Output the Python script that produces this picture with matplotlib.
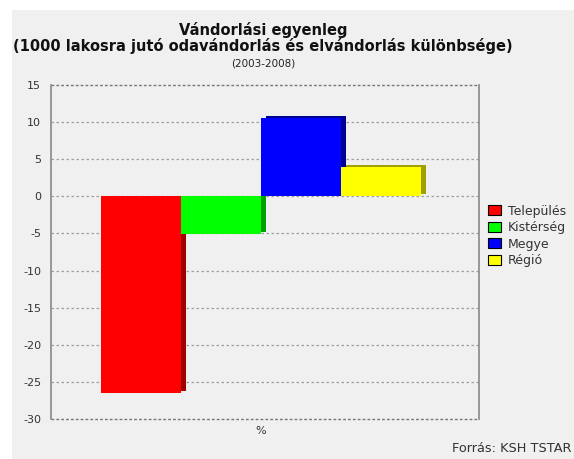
import matplotlib
matplotlib.use("Agg")
import matplotlib.pyplot as plt
from matplotlib.patches import Rectangle

plt.rcParams["axes.unicode_minus"] = False

# -----------------------------
# Data
# -----------------------------
categories = ["Település", "Kistérség", "Megye", "Régió"]
values = [-26.5, -5.1, 10.5, 3.9]
colors = ["#ff0000", "#00ff00", "#0000ff", "#ffff00"]
side_colors = ["#a00000", "#00a000", "#000090", "#a0a000"]
yticks = [15, 10, 5, 0, -5, -10, -15, -20, -25, -30]

BG = "#f0f0f0"
W, H = 574, 459

fig = plt.figure(figsize=(W / 100, H / 100), dpi=100, facecolor="white")

# gray panel behind everything (white strip at top and left)
fig.patches.append(Rectangle((12 / W, 0), 1 - 12 / W, 1 - 10 / H,
                             transform=fig.transFigure, facecolor=BG,
                             edgecolor="none", zorder=-10))

ax = fig.add_axes([51 / W, 1 - 419 / H, (479 - 51) / W, (419 - 85) / H])
ax.set_facecolor(BG)

# -----------------------------
# Bars with a small 3D side
# -----------------------------
xs = [-1.5, -0.5, 0.5, 1.5]
depth_x = 0.06
depth_y = 0.3
side_bottoms = [depth_y if v > 0 else 0 for v in values]
side_heights = [v if v > 0 else v + depth_y for v in values]
ax.bar([x + depth_x for x in xs], side_heights, width=1.0, bottom=side_bottoms,
       color=side_colors, zorder=2)
bars = ax.bar(xs, values, width=1.0, color=colors, zorder=3)

# -----------------------------
# Axes styling
# -----------------------------
ax.set_ylim(-30, 15)
ax.set_xlim(-2.63, 2.73)
ax.set_yticks(yticks)
ax.set_xticks([0])
ax.set_xticklabels(["%"])
ax.tick_params(axis="both", length=0, labelsize=8, colors="#333333")
ax.tick_params(axis="y", pad=7)
ax.tick_params(axis="x", pad=5)

for y in yticks[1:-1]:
    ax.axhline(y, color="#a0a0a0", linestyle=(0, (2, 2)), linewidth=0.9, zorder=1)
for y in (15, -30):
    ax.axhline(y, color="#777777", linestyle=(0, (2, 1.5)), linewidth=1.0,
               zorder=1, clip_on=False)

for side in ("top", "bottom"):
    ax.spines[side].set_visible(False)
for side in ("left", "right"):
    ax.spines[side].set_color("#888888")
    ax.spines[side].set_linewidth(1.2)

# -----------------------------
# Titles
# -----------------------------
cx = 263 / W
fig.text(cx, 1 - 30 / H, "Vándorlási egyenleg", ha="center", va="center",
         fontsize=10.5, fontweight="bold", color="#111111")
fig.text(cx, 1 - 46 / H, "(1000 lakosra jutó odavándorlás és elvándorlás különbsége)",
         ha="center", va="center", fontsize=10.5, fontweight="bold", color="#111111")
fig.text(cx, 1 - 63 / H, "(2003-2008)", ha="center", va="center",
         fontsize=7.5, color="#222222")

fig.text(1 - 2 / W, 1 - 449 / H, "Forrás: KSH TSTAR", ha="right", va="center",
         fontsize=9.3, color="#333333")

# -----------------------------
# Legend
# -----------------------------
leg = fig.legend(bars, categories, loc="center left",
                 bbox_to_anchor=(482 / W, 1 - 236 / H),
                 frameon=False, fontsize=9, handlelength=1.05, handleheight=0.85,
                 handletextpad=0.5, labelspacing=0.28, borderpad=0)
for patch in leg.get_patches():
    patch.set_edgecolor("black")
    patch.set_linewidth(0.8)
for t in leg.get_texts():
    t.set_color("#333333")

fig.savefig("out.png", dpi=100, facecolor=fig.get_facecolor())
